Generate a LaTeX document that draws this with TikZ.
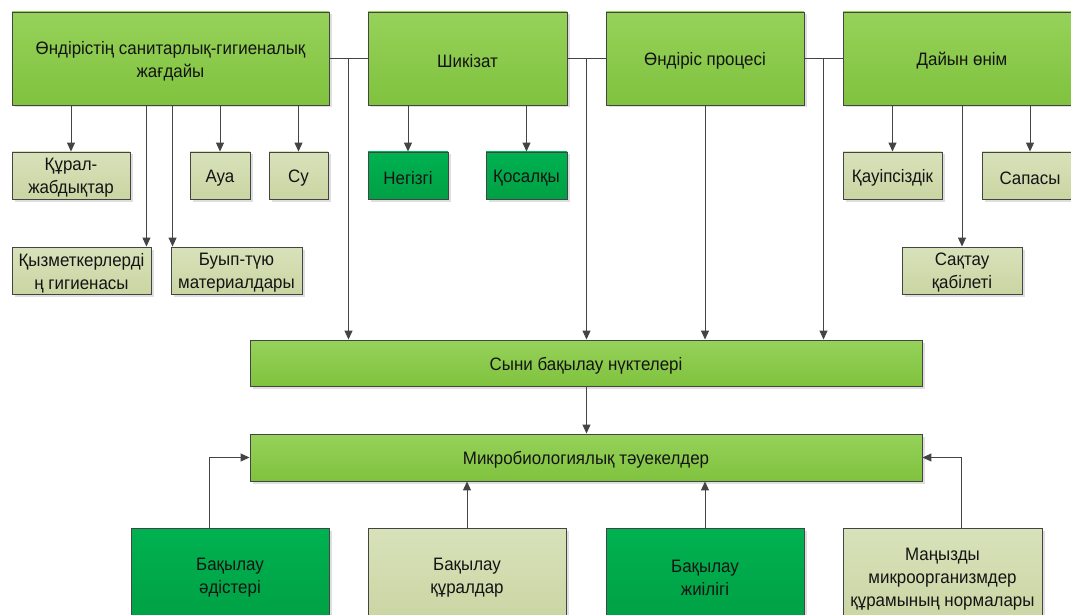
\documentclass[tikz,border=0pt]{standalone}
\usepackage{fontspec}
\setmainfont{Liberation Sans}[FakeStretch=0.94]
\usetikzlibrary{arrows.meta,shadows,calc}
\definecolor{lgA}{HTML}{96D25A}
\definecolor{lgB}{HTML}{80C23E}
\definecolor{dgA}{HTML}{00B251}
\definecolor{dgB}{HTML}{00A044}
\definecolor{olA}{HTML}{D8E2BA}
\definecolor{olB}{HTML}{CAD5A3}
\definecolor{edge}{HTML}{444444}
\definecolor{txt}{HTML}{141414}
\tikzset{
  box/.style={draw=edge, line width=0.9pt, inner sep=0pt,
    drop shadow={shadow xshift=2.5pt, shadow yshift=-2.5pt, opacity=0.25, fill=gray}},
  boxtext/.style={align=center, text=txt, inner sep=0pt, yshift=-2.5pt,
    font=\fontsize{18}{23}\selectfont},
  lgbox/.style={box, top color=lgA, bottom color=lgB},
  dgbox/.style={box, top color=dgA, bottom color=dgB},
  olbox/.style={box, top color=olA, bottom color=olB},
  arr/.style={draw=edge, line width=1pt, -{Triangle[length=9pt,width=8pt]}},
  ln/.style={draw=edge, line width=1pt},
}
\newcommand{\bx}[7]{% style, name, x1, y1, x2, y2, text
  \node[#1, minimum width=#5pt-#3pt, minimum height=#6pt-#4pt,
    label={[boxtext]center:#7}] (#2) at ({(#3+#5)/2},{(#4+#6)/2}) {};}
\begin{document}
\begin{tikzpicture}[x=1pt,y=-1pt]
\fill[white] (0,0) rectangle (1071,615);
\useasboundingbox (0,0) rectangle (1071,615);
% top row
\bx{lgbox}{top1}{12}{12}{329}{105}{Өндірістің санитарлық-гигиеналық\\жағдайы}
\bx{lgbox}{shik}{368}{12}{567}{105}{Шикізат}
\bx{lgbox}{proc}{606}{12}{804}{105}{Өндіріс процесі}
\bx{lgbox}{dayin}{843}{12}{1081}{105}{Дайын өнім}
% children
\bx{olbox}{kural}{12}{152}{130}{199}{Құрал-\\жабдықтар}
\bx{olbox}{aua}{190}{152}{250}{199}{Ауа}
\bx{olbox}{su}{269}{152}{328}{199}{Су}
\bx{olbox}{kyz}{12}{247}{151}{294}{Қызметкерлерді\\ң гигиенасы}
\bx{olbox}{buyp}{171}{247}{302}{294}{Буып-түю\\материалдары}
\bx{dgbox}{neg}{368}{152}{448}{199}{Негізгі}
\bx{dgbox}{kos}{486}{152}{567}{199}{Қосалқы}
\bx{olbox}{kauip}{843}{152}{942}{199}{Қауіпсіздік}
\bx{olbox}{sap}{982}{152}{1078}{199}{Сапасы}
\bx{olbox}{sakt}{902}{247}{1022}{294}{Сақтау\\қабілеті}
% middle
\bx{lgbox}{syni}{250}{340}{922}{386}{Сыни бақылау нүктелері}
\bx{lgbox}{mikro}{250}{434}{922}{481}{Микробиологиялық тәуекелдер}
% bottom
\bx{dgbox}{b1}{131}{528}{329}{623}{Бақылау\\әдістері}
\bx{olbox}{b2}{368}{528}{566}{623}{Бақылау\\құралдар}
\bx{dgbox}{b3}{606}{528}{804}{623}{Бақылау\\жиілігі}
\bx{olbox}{b4}{843}{528}{1042}{625}{Маңызды\\микроорганизмдер\\құрамының нормалары}
% top-row links
\draw[ln] (top1.east) -- (shik.west);
\draw[ln] (shik.east) -- (proc.west);
\draw[ln] (proc.east) -- (dayin.west);
\coordinate (j1) at ($(top1.east)!0.5!(shik.west)$);
\coordinate (j2) at ($(shik.east)!0.5!(proc.west)$);
\coordinate (j3) at ($(proc.east)!0.5!(dayin.west)$);
\draw[arr] (j1) -- (j1 |- syni.north);
\draw[arr] (j2) -- (j2 |- syni.north);
\draw[arr] (proc.south) -- (proc.south |- syni.north);
\draw[arr] (j3) -- (j3 |- syni.north);
% top1 children
\draw[arr] (top1.south -| kural.north) -- (kural.north);
\draw[arr] (top1.south -| aua.north) -- (aua.north);
\draw[arr] (top1.south -| su.north) -- (su.north);
\coordinate (kx) at ([xshift=-5pt]kyz.north east);
\draw[arr] (top1.south -| kx) -- (kx);
\coordinate (bx) at ([xshift=2pt]buyp.north west);
\draw[arr] (top1.south -| bx) -- (bx);
% shik children
\draw[arr] (shik.south -| neg.north) -- (neg.north);
\draw[arr] (shik.south -| kos.north) -- (kos.north);
% dayin children
\draw[arr] (dayin.south -| kauip.north) -- (kauip.north);
\draw[arr] (dayin.south -| sakt.north) -- (sakt.north);
\draw[arr] (dayin.south -| sap.north) -- (sap.north);
% syni -> mikro
\draw[arr] (j2 |- syni.south) -- (j2 |- mikro.north);
% bottom to mikro
\coordinate (m1) at ($(mikro.north west)!0.5!(mikro.south west)$);
\coordinate (m2) at ($(mikro.north east)!0.5!(mikro.south east)$);
\draw[arr] ([xshift=-21pt]b1.north) |- (m1);
\draw[arr] (b2.north) -- (b2.north |- mikro.south);
\draw[arr] (b3.north) -- (b3.north |- mikro.south);
\draw[arr] ([xshift=19pt]b4.north) |- (m2);
\end{tikzpicture}
\end{document}
